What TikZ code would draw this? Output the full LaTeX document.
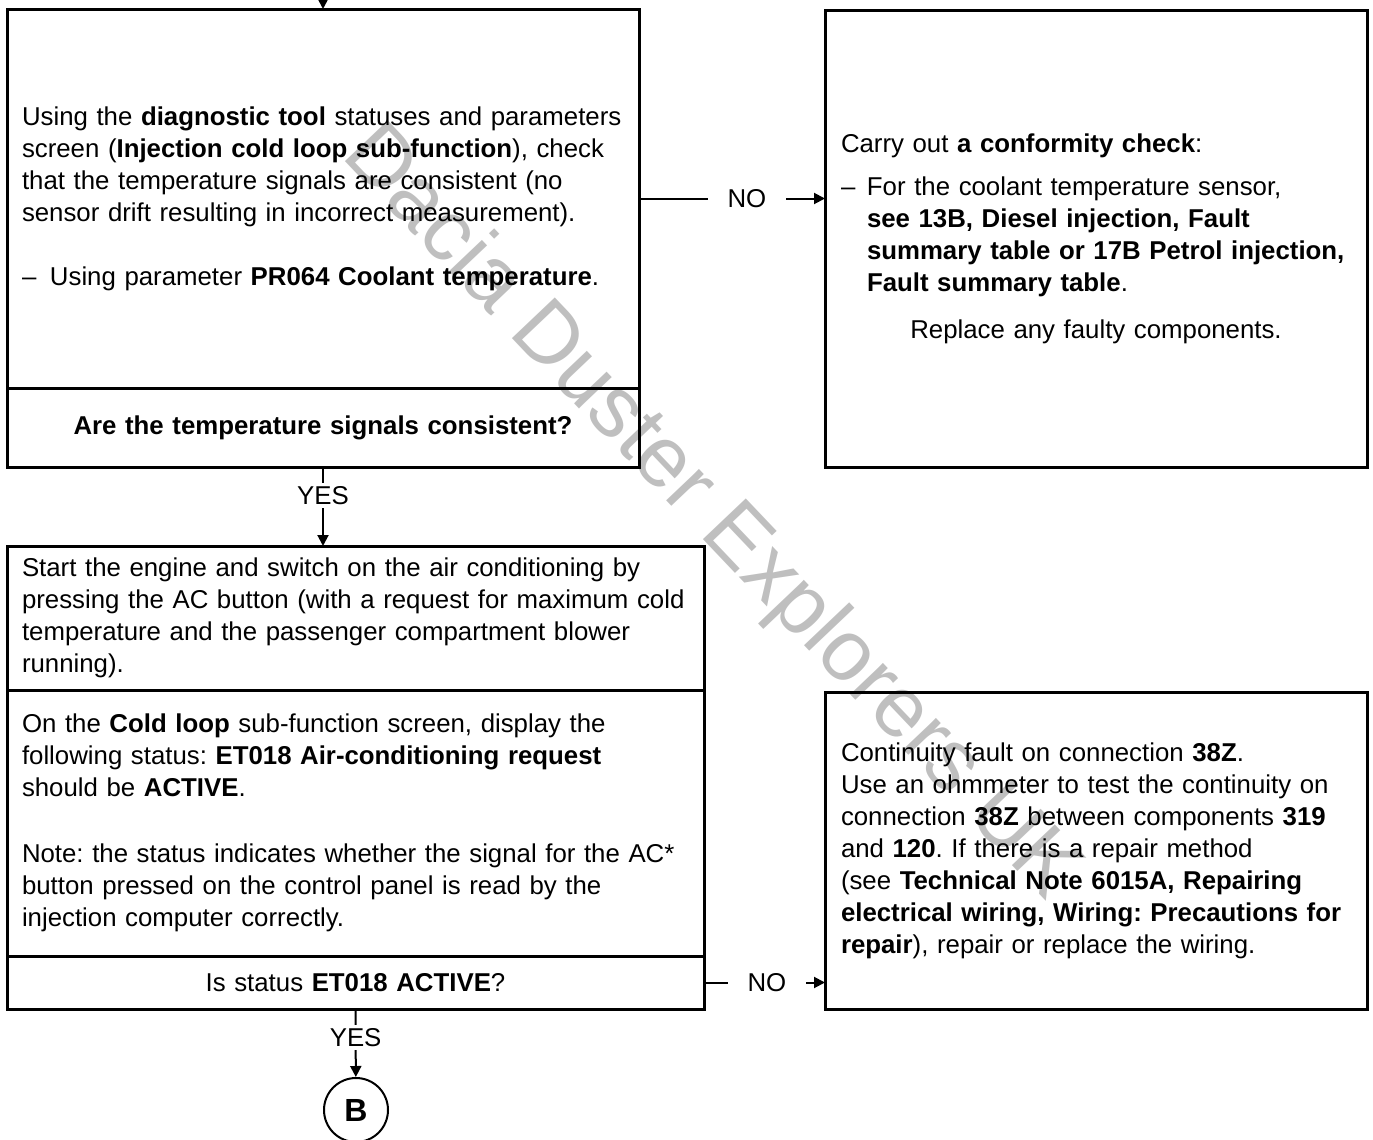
\documentclass[tikz,border=0pt]{standalone}
\usepackage{fontspec}
\setmainfont{Liberation Sans}
\usetikzlibrary{arrows.meta,positioning}
\frenchspacing
\hyphenpenalty=10000
\exhyphenpenalty=10000

\begin{document}
\begin{tikzpicture}[
  x=0.5pt, y=-0.5pt,
  >={Triangle[length=5.5pt,width=5.5pt]},
  box/.style={draw, line width=1.5pt, outer sep=0pt, inner xsep=7.5pt, inner ysep=0pt, font=\fontsize{12.9}{16}\selectfont},
  lbox/.style={box, align=left},
  qbox/.style={box, align=center},
  arr/.style={->, line width=1pt},
  lbl/.style={fill=white, inner xsep=10pt, inner ysep=1.5pt, font=\fontsize{12.9}{15}\selectfont},
]
\useasboundingbox (0,0) rectangle (1373,1140);

% Temperature signal check
\node[lbox, text width=301pt, minimum width=316pt, minimum height=189.5pt] (chk) at (323,198.5)
  {Using the \textbf{diagnostic tool} statuses and parameters\\
   screen (\textbf{Injection cold loop sub-function}), check\\
   that the temperature signals are consistent (no\\
   sensor drift resulting in incorrect measurement).\\[16pt]
   \makebox[14pt][l]{\textendash}Using parameter \textbf{PR064 Coolant temperature}.};
\node[qbox, text width=301pt, minimum width=316pt, minimum height=39.5pt, below=0pt of chk] (askT)
  {\textbf{Are the temperature signals consistent?}};

% Conformity check
\node[lbox, inner xsep=8pt, text width=255pt, minimum width=271pt, minimum height=228.5pt] (conf) at (1096,238.5)
  {Carry out \textbf{a conformity check}:\\[5.5pt]
   \makebox[13pt][l]{\textendash}For the coolant temperature sensor,\\
   \hspace*{13pt}\textbf{see 13B, Diesel injection, Fault}\\
   \hspace*{13pt}\textbf{summary table or 17B Petrol injection,}\\
   \hspace*{13pt}\textbf{Fault summary table}.\\[7.5pt]
   \makebox[255pt]{Replace any faulty components.}};

% AC request check
\node[lbox, text width=333.5pt, minimum width=348.5pt, minimum height=72pt] (acOn) at (355.5,618)
  {Start the engine and switch on the air conditioning by\\
   pressing the AC button (with a request for maximum cold\\
   temperature and the passenger compartment blower\\
   running).};
\node[lbox, text width=333.5pt, minimum width=348.5pt, minimum height=133pt, below=0pt of acOn] (etStat)
  {On the \textbf{Cold loop} sub-function screen, display the\\
   following status: \textbf{ET018 Air-conditioning request}\\
   should be \textbf{ACTIVE}.\\[17pt]
   Note: the status indicates whether the signal for the AC*\\
   button pressed on the control panel is read by the\\
   injection computer correctly.};
\node[qbox, text width=333.5pt, minimum width=348.5pt, minimum height=26.5pt, below=0pt of etStat] (askET)
  {Is status \textbf{ET018 ACTIVE}?};

% Wiring fault
\node[lbox, inner xsep=8pt, text width=255pt, minimum width=271pt, minimum height=158.5pt] (wire) at (1096,850.5)
  {Continuity fault on connection \textbf{38Z}.\\
   Use an ohmmeter to test the continuity on\\
   connection \textbf{38Z} between components \textbf{319}\\
   and \textbf{120}. If there is a repair method\\
   (see \textbf{Technical Note 6015A, Repairing}\\
   \textbf{electrical wiring, Wiring: Precautions for}\\
   \textbf{repair}), repair or replace the wiring.};

\node[circle, draw, line width=1pt, minimum size=32pt, inner sep=0pt, font=\fontsize{16}{16}\selectfont\bfseries] (markB) at (356,1110) {B};

% Connectors
\coordinate (entry) at (323,-10);
\draw[arr] (entry) -- (chk.north);
\draw[arr] (chk.east) -- node[lbl, pos=0.58] {NO} (chk.east -| conf.west);
\draw[arr] (askT.south) -- node[lbl, pos=0.36] {YES} (askT.south |- acOn.north);
\draw[arr] (askET.east) -- node[lbl, pos=0.52] {NO} (askET.east -| wire.west);
\draw[arr] (askET.south) -- node[lbl, pos=0.42] {YES} (markB);

% Watermark
\node[rotate=-46.5, text=gray!50, blend mode=multiply, font=\fontsize{43}{43}\selectfont] (mark) at (710,514) {Dacia Duster Explorers UK};
\end{tikzpicture}
\end{document}
